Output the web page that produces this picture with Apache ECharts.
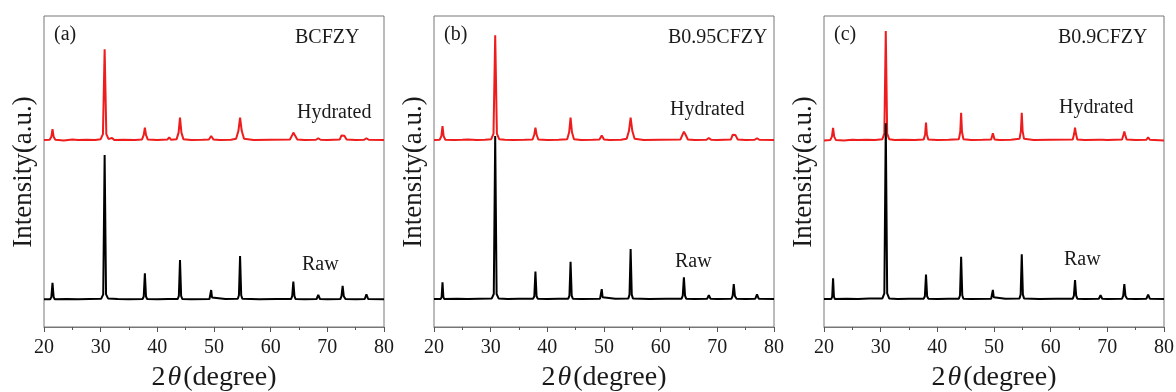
<!DOCTYPE html>
<html>
<head>
<meta charset="utf-8">
<script src="https://cdn.jsdelivr.net/npm/echarts@6/dist/echarts.min.js"></script>
<style>
html,body{margin:0;padding:0;background:#fff;}
#c{width:1176px;height:392px;}
</style>
</head>
<body>
<div id="c"></div>
<script>
// ---- data (2θ in degrees, intensity in arbitrary units, offset traces) ----
const panelLabels = ['(a)', '(b)', '(c)'];
const sampleNames = ['BCFZY', 'B0.95CFZY', 'B0.9CFZY'];
const traceNames = ['Raw', 'Hydrated'];
const xTicks = [20, 30, 40, 50, 60, 70, 80];

const rawA = [
[20,8.9],[21.1,8.9],[21.3,9.6],[21.5,14.2],[21.7,9.6],[21.9,8.9],
[24,9.0],[26,8.9],[28,9.0],[30.1,9.1],[30.45,10.5],[30.7,55.3],[30.95,10.5],[31.3,9.2],
[33,9.0],[35,8.9],[37.4,9.0],[37.6,9.8],[37.8,17.3],[38.0,9.8],[38.2,9.0],
[40,8.9],[42,9.0],[43.6,9.0],[43.8,10.0],[44.0,21.5],[44.2,10.0],[44.4,9.0],
[46,8.9],[49.2,9.0],[49.35,9.5],[49.5,11.9],[49.65,9.5],[49.9,8.9],
[52,9.0],[54.2,9.1],[54.4,10.2],[54.6,22.8],[54.8,10.2],[55.0,9.1],
[58,8.9],[61,9.0],[63.6,9.0],[63.8,9.9],[64.0,14.6],[64.2,9.9],[64.4,9.0],
[66,8.9],[68.1,9.0],[68.4,10.3],[68.7,9.0],
[70,8.9],[72.3,9.0],[72.5,9.9],[72.7,13.2],[72.9,9.9],[73.2,9.0],
[75,8.9],[76.6,9.0],[76.9,10.5],[77.2,9.0],[80,8.9]
];
const hydA = [
[20,60.1],[21.0,60.2],[21.3,61.2],[21.5,63.6],[21.7,61.2],[22.0,60.2],
[23.5,60.0],[25,60.3],[26,60.1],[27.5,60.2],[29,60.1],[30.0,60.4],[30.4,62.0],[30.7,89.3],[31.0,62.0],[31.4,60.4],
[32,60.8],[32.4,60.1],[34,60.2],[36,60.1],[37.3,60.3],[37.6,61.8],[37.8,64.1],[38.0,61.8],[38.3,60.3],
[40,60.1],[41.8,60.3],[42.1,61.0],[42.4,60.2],[43.4,60.4],[43.75,62.5],[44.0,67.3],[44.25,62.5],[44.6,60.4],
[46,60.1],[48,60.2],[49.1,60.3],[49.5,61.4],[49.9,60.3],
[51,60.1],[53,60.2],[53.9,60.5],[54.3,63.0],[54.6,67.3],[54.9,63.0],[55.3,60.5],
[57,60.1],[60,60.2],[63.4,60.3],[63.8,61.7],[64.0,62.5],[64.3,61.6],[64.7,60.3],
[66,60.1],[68.0,60.2],[68.4,60.7],[68.8,60.2],
[70,60.1],[72.2,60.3],[72.5,61.6],[72.7,62.1],[73.0,61.5],[73.4,60.3],
[75,60.1],[76.5,60.2],[76.9,60.7],[77.3,60.2],[80,60.1]
];
const rawB = [
[20,9.0],[21.2,9.0],[21.35,9.7],[21.5,14.4],[21.65,9.7],[21.8,9.0],
[24,9.1],[26,9.0],[28,9.1],[30.2,9.2],[30.55,10.6],[30.8,61.4],[31.05,10.6],[31.4,9.2],
[33,9.0],[35,9.1],[37.5,9.1],[37.7,9.9],[37.9,17.8],[38.1,9.9],[38.3,9.1],
[40,9.0],[42,9.1],[43.7,9.1],[43.9,10.1],[44.1,21.0],[44.3,10.1],[44.5,9.1],
[46,9.0],[49.3,9.1],[49.45,9.6],[49.6,12.2],[49.75,9.6],[49.9,9.0],
[52,9.1],[54.3,9.2],[54.5,10.4],[54.7,25.1],[54.9,10.4],[55.1,9.2],
[58,9.0],[61,9.1],[63.7,9.1],[63.9,10.1],[64.1,16.0],[64.3,10.1],[64.5,9.1],
[66,9.0],[68.2,9.1],[68.5,10.2],[68.8,9.1],
[70,9.0],[72.5,9.1],[72.7,10.0],[72.9,13.8],[73.1,10.0],[73.4,9.1],
[75,9.0],[76.7,9.1],[77.0,10.5],[77.3,9.1],[80,9.0]
];
const hydB = [
[20,60.1],[21.0,60.2],[21.3,61.4],[21.5,64.6],[21.7,61.4],[22.0,60.2],
[23.5,60.1],[25,60.2],[26,60.3],[27.5,60.1],[29,60.2],[30.1,60.4],[30.5,62.2],[30.8,93.8],[31.1,62.2],[31.5,60.4],
[32.5,60.2],[34,60.1],[36,60.2],[37.4,60.3],[37.7,61.9],[37.9,64.1],[38.1,61.9],[38.4,60.3],
[40,60.1],[42,60.2],[43.5,60.4],[43.85,62.6],[44.1,67.3],[44.35,62.6],[44.7,60.4],
[46,60.1],[48,60.2],[49.2,60.3],[49.6,61.6],[50.0,60.3],
[51,60.1],[53,60.2],[54.0,60.5],[54.4,63.0],[54.7,67.3],[55.0,63.0],[55.4,60.5],
[57,60.1],[60,60.2],[63.5,60.3],[63.9,62.0],[64.1,62.8],[64.4,61.8],[64.8,60.3],
[66,60.1],[68.1,60.2],[68.5,60.8],[68.9,60.2],
[70,60.1],[72.4,60.3],[72.7,61.8],[72.9,62.3],[73.2,61.7],[73.6,60.3],
[75,60.1],[76.6,60.2],[77.0,60.7],[77.4,60.2],[80,60.1]
];
const rawC = [
[20,9.0],[21.3,9.0],[21.45,9.8],[21.6,15.7],[21.75,9.8],[21.9,9.0],
[24,9.1],[26,9.0],[28,9.2],[30.3,9.2],[30.65,10.8],[30.9,65.5],[31.15,10.8],[31.5,9.2],
[33,9.0],[35,9.1],[37.6,9.1],[37.8,9.9],[38.0,16.9],[38.2,9.9],[38.4,9.1],
[40,9.0],[42,9.1],[43.8,9.1],[44.0,10.2],[44.2,22.6],[44.4,10.2],[44.6,9.1],
[46,9.0],[49.5,9.1],[49.65,9.6],[49.8,11.9],[49.95,9.6],[50.1,9.0],
[52,9.1],[54.5,9.2],[54.7,10.4],[54.9,23.4],[55.1,10.4],[55.3,9.2],
[58,9.0],[61,9.1],[63.9,9.1],[64.1,10.1],[64.3,15.1],[64.5,10.1],[64.7,9.1],
[66,9.0],[68.5,9.1],[68.8,10.2],[69.1,9.1],
[70,9.0],[72.6,9.1],[72.8,10.0],[73.0,13.8],[73.2,10.0],[73.5,9.1],
[75,9.0],[76.9,9.1],[77.2,10.4],[77.5,9.1],[80,9.0]
];
const hydC = [
[20,60.0],[21.1,60.1],[21.4,61.2],[21.6,64.0],[21.8,61.2],[22.1,60.1],
[23.5,60.0],[25,60.2],[26,60.1],[27.5,60.2],[29,60.1],[30.3,60.4],[30.65,62.2],[30.9,95.2],[31.15,62.2],[31.5,60.4],
[32.5,60.1],[34,60.2],[36,60.1],[37.6,60.3],[37.85,62.0],[38.0,65.7],[38.15,62.0],[38.4,60.3],
[40,60.1],[42,60.2],[43.8,60.4],[44.05,62.8],[44.2,68.9],[44.35,62.8],[44.6,60.4],
[46,60.1],[48,60.2],[49.5,60.3],[49.8,62.3],[50.1,60.3],
[51,60.1],[53,60.2],[54.5,60.5],[54.75,63.0],[54.9,68.9],[55.05,63.0],[55.3,60.5],
[57,60.1],[60,60.2],[63.9,60.3],[64.15,62.2],[64.3,64.1],[64.45,62.2],[64.7,60.3],
[66,60.1],[68.5,60.2],[68.8,60.8],[69.1,60.2],
[70,60.1],[72.6,60.3],[72.85,61.8],[73.0,62.9],[73.15,61.8],[73.4,60.3],
[75,60.1],[76.9,60.2],[77.2,61.0],[77.5,60.2],[80,60.0]
];
const rawSeries = [rawA, rawB, rawC];
const hydSeries = [hydA, hydB, hydC];

// ---- layout ----
const FONT = "'Liberation Serif','Times New Roman',serif";
const gridLefts = [44, 434, 824];
const gridTop = 16, gridW = 340, gridH = 311;
const nameLeftOffsets = [251, 234, 234];
const hydLeftOffsets = [253, 236, 235];
const rawLeftOffsets = [258, 241, 240];
const hydY = [113, 110, 108];
const rawY = [265, 262, 260];

const grids = [], xAxes = [], yAxes = [], series = [], graphics = [];
for (let i = 0; i < 3; i++) {
  const L = gridLefts[i];
  grids.push({left: L, top: gridTop, width: gridW, height: gridH, show: true,
              containLabel: false, outerBoundsMode: 'none',
              borderColor: '#777', borderWidth: 1, backgroundColor: 'transparent'});
  xAxes.push({
    type: 'value', gridIndex: i, min: xTicks[0], max: xTicks[xTicks.length - 1], interval: 10,
    axisLine: {show: true, lineStyle: {color: '#777', width: 1}},
    axisTick: {show: true, inside: false, length: 5, lineStyle: {color: '#555'}},
    minorTick: {show: true, splitNumber: 2, length: 3, lineStyle: {color: '#555'}},
    splitLine: {show: false},
    axisLabel: {fontFamily: FONT, fontSize: 20, color: '#1a1a1a', margin: 11},
    name: '{n|2}{t|θ}{n|(degree)}', nameLocation: 'middle', nameGap: 37,
    nameTextStyle: {rich: {
      n: {fontFamily: FONT, fontSize: 28, color: '#1a1a1a'},
      t: {fontFamily: FONT, fontSize: 28, fontStyle: 'italic', color: '#1a1a1a', padding: [0, 2, 0, 2]}
    }}
  });
  yAxes.push({
    type: 'value', gridIndex: i, min: 0, max: 100,
    axisLine: {show: false}, axisTick: {show: false}, axisLabel: {show: false}, splitLine: {show: false}
  });
  series.push({
    name: traceNames[1], type: 'line', xAxisIndex: i, yAxisIndex: i, data: hydSeries[i],
    showSymbol: false, symbol: 'none', lineStyle: {color: '#ee1c1c', width: 2}, z: 2
  });
  series.push({
    name: traceNames[0], type: 'line', xAxisIndex: i, yAxisIndex: i, data: rawSeries[i],
    showSymbol: false, symbol: 'none', lineStyle: {color: '#000', width: 2}, z: 3
  });
  graphics.push({type: 'text', x: L - 20, y: 172, rotation: Math.PI / 2,
    style: {text: 'Intensity(a.u.)', fontFamily: FONT, fontSize: 27, fill: '#1a1a1a', align: 'center', verticalAlign: 'middle'}});
  graphics.push({type: 'text', x: L + 10, y: 35,
    style: {text: panelLabels[i], fontFamily: FONT, fontSize: 20, fill: '#1a1a1a', align: 'left', verticalAlign: 'middle'}});
  graphics.push({type: 'text', x: L + nameLeftOffsets[i], y: 38,
    style: {text: sampleNames[i], fontFamily: FONT, fontSize: 20, fill: '#1a1a1a', align: 'left', verticalAlign: 'middle'}});
  graphics.push({type: 'text', x: L + hydLeftOffsets[i], y: hydY[i],
    style: {text: traceNames[1], fontFamily: FONT, fontSize: 20, fill: '#1a1a1a', align: 'left', verticalAlign: 'middle'}});
  graphics.push({type: 'text', x: L + rawLeftOffsets[i], y: rawY[i],
    style: {text: traceNames[0], fontFamily: FONT, fontSize: 20, fill: '#1a1a1a', align: 'left', verticalAlign: 'middle'}});
}

const chart = echarts.init(document.getElementById('c'), null, {renderer: 'canvas'});
chart.setOption({
  animation: false,
  backgroundColor: '#fff',
  grid: grids, xAxis: xAxes, yAxis: yAxes, series: series, graphic: graphics
});
</script>
</body>
</html>
